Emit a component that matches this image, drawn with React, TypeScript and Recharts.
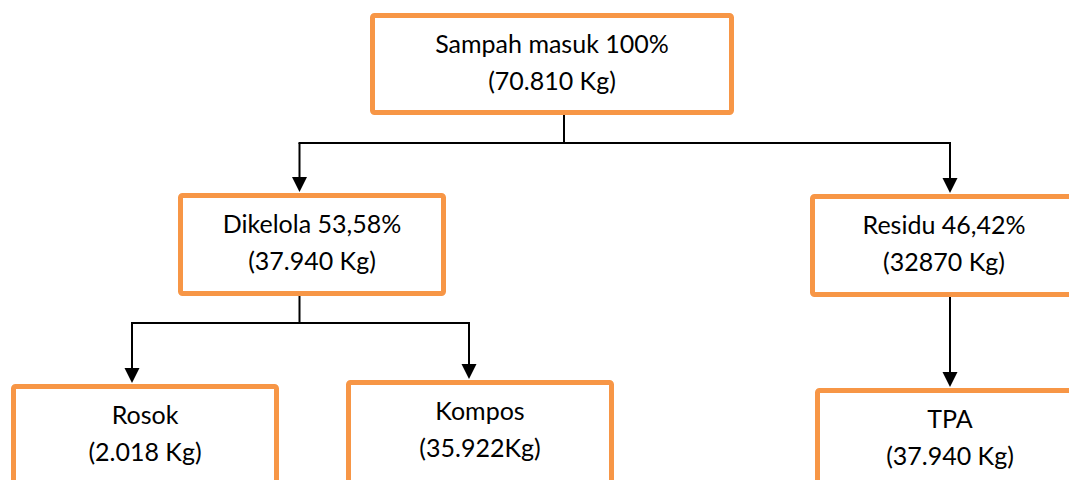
import React from "react"
import { ComposedChart, XAxis, YAxis, ReferenceArea, ReferenceLine, Scatter } from "recharts"

// flow of waste, top to bottom
const nodeNames = ["Sampah masuk 100%", "Dikelola 53,58%", "Residu 46,42%", "Rosok", "Kompos", "TPA"]
const nodeWeights = ["(70.810 Kg)", "(37.940 Kg)", "(32870 Kg)", "(2.018 Kg)", "(35.922Kg)", "(37.940 Kg)"]
const nodeParents = [-1, 0, 0, 1, 1, 2]

// layout in chart units (outer edges of each box, and the x where connectors attach)
const boxLayout = [
  { x1: 370, x2: 734, y1: 13, y2: 115, ax: 564 },
  { x1: 178, x2: 446, y1: 193, y2: 296, ax: 299.5 },
  { x1: 810, x2: 1078, y1: 194, y2: 297, ax: 950 },
  { x1: 11, x2: 279, y1: 384, y2: 520, ax: 132 },
  { x1: 346, x2: 614, y1: 380, y2: 520, ax: 469 },
  { x1: 815, x2: 1085, y1: 388, y2: 520, ax: 950 },
]
const busY: { [k: number]: number } = { 0: 143, 1: 323 }

const ORANGE = "#F79646"
const BORDER = 5
const ARROW = 15
const FONT = "Lato, 'Noto Sans', sans-serif"

function BoxLabel(props: any) {
  const { viewBox, top, bottom } = props
  const cx = viewBox.x + viewBox.width / 2
  const y0 = viewBox.y - BORDER / 2
  return (
    <g>
      <text x={cx} y={y0 + 40} textAnchor="middle" fontFamily={FONT} fontSize={25} fill="#000">
        {top}
      </text>
      <text x={cx} y={y0 + 77} textAnchor="middle" fontFamily={FONT} fontSize={25} fill="#000">
        {bottom}
      </text>
    </g>
  )
}

function ArrowHead(props: any) {
  const { cx, cy } = props
  return <path d={`M${cx - 7.5},${cy - ARROW} L${cx + 7.5},${cy - ARROW} L${cx},${cy} Z`} fill="#000" />
}

export default function App() {
  // connector segments and arrow tips built from the parent links
  const segments: { x: number; y: number }[][] = []
  const tips: { x: number; y: number }[] = []
  nodeParents.forEach((p, i) => {
    if (p < 0) return
    const parent = boxLayout[p]
    const child = boxLayout[i]
    const tipY = child.y1 - 1
    const siblings = nodeParents.filter((q) => q === p).length
    if (siblings > 1) {
      const by = busY[p]
      segments.push([{ x: child.ax, y: by }, { x: child.ax, y: tipY - ARROW + 1 }])
    } else {
      segments.push([{ x: child.ax, y: parent.y2 }, { x: child.ax, y: tipY - ARROW + 1 }])
    }
    tips.push({ x: child.ax, y: tipY })
  })
  Object.keys(busY).forEach((k) => {
    const p = Number(k)
    const kids = nodeParents.map((q, i) => (q === p ? boxLayout[i].ax : null)).filter((v) => v !== null) as number[]
    const by = busY[p]
    segments.push([{ x: boxLayout[p].ax, y: boxLayout[p].y2 }, { x: boxLayout[p].ax, y: by }])
    segments.push([{ x: Math.min(...kids) - 1, y: by }, { x: Math.max(...kids) + 1, y: by }])
  })

  return (
    <div style={{ position: "absolute", left: 0, top: 0, width: 1069, height: 480, background: "#fff" }}>
      <ComposedChart width={1069} height={480} margin={{ top: 0, right: 0, bottom: 0, left: 0 }} data={tips}>
        <XAxis type="number" dataKey="x" domain={[0, 1069]} hide allowDataOverflow />
        <YAxis type="number" dataKey="y" domain={[0, 480]} reversed hide allowDataOverflow />
        {segments.map((s, i) => (
          <ReferenceLine key={`s${i}`} segment={s} stroke="#000" strokeWidth={2} ifOverflow="visible" />
        ))}
        {boxLayout.map((b, i) => (
          <ReferenceArea
            key={`b${i}`}
            x1={b.x1 + BORDER / 2}
            x2={b.x2 - BORDER / 2}
            y1={b.y1 + BORDER / 2}
            y2={b.y2 - BORDER / 2}
            fill="#fff"
            fillOpacity={1}
            stroke={ORANGE}
            strokeWidth={BORDER}
            strokeOpacity={1}
            radius={2}
            ifOverflow="visible"
            label={<BoxLabel top={nodeNames[i]} bottom={nodeWeights[i]} />}
          />
        ))}
        <Scatter data={tips} dataKey="y" shape={<ArrowHead />} isAnimationActive={false} />
      </ComposedChart>
    </div>
  )
}
